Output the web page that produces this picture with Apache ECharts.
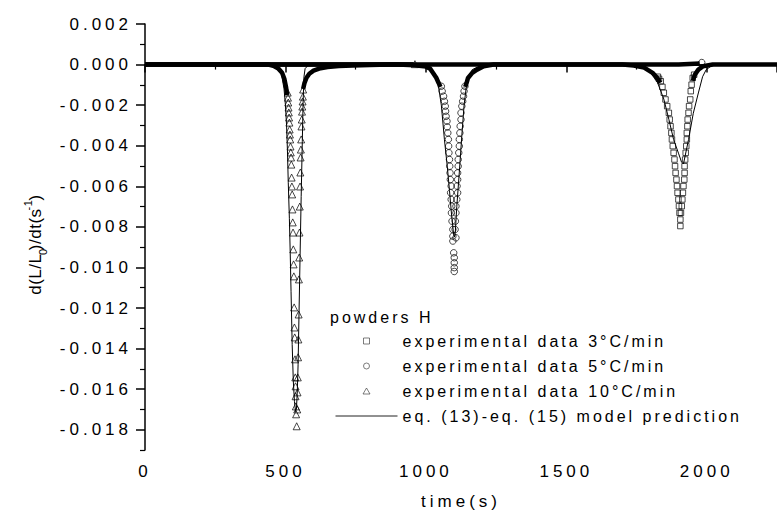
<!DOCTYPE html>
<html>
<head>
<meta charset="utf-8">
<script src="https://cdn.jsdelivr.net/npm/echarts@6/dist/echarts.min.js"></script>
<style>
  html, body { margin: 0; padding: 0; background: #fff; }
  #chart { width: 777px; height: 519px; }
  /* the scanned figure has very loose letter spacing */
  #chart text { letter-spacing: 4px; }
  #chart text[style*="16px"], #chart text[font-size="16px"] { letter-spacing: 3px; }
  #chart text[style*="Arial"], #chart text[font-family*="Arial"] { letter-spacing: 0.5px; }
</style>
</head>
<body>
<div id="chart"></div>
<script>
// series names
var names = [
  'experimental data 3°C/min',
  'experimental data 5°C/min',
  'experimental data 10°C/min',
  'eq. (13)-eq. (15) model prediction'
];

// tick values
var xTicks = [0, 500, 1000, 1500, 2000];
var yTicks = [-0.018, -0.016, -0.014, -0.012, -0.010, -0.008, -0.006, -0.004, -0.002, 0, 0.002];
var yMinor = [-0.019, -0.017, -0.015, -0.013, -0.011, -0.009, -0.007, -0.005, -0.003, -0.001, 0.001];

// 3°C/min : separate points around the peak  [time s, d(L/L0)/dt]
var pts3 = [
  [1826,-0.00060],[1830,-0.00070],[1836,-0.00082],[1842,-0.00110],[1847,-0.00139],[1853,-0.00172],[1859,-0.00205],
  [1865,-0.00238],[1868,-0.00271],[1871,-0.00304],[1874,-0.00337],[1876,-0.00369],[1879,-0.00402],
  [1882,-0.00435],[1885,-0.00468],[1887,-0.00501],[1889,-0.00534],[1892,-0.00567],[1894,-0.00599],
  [1896,-0.00632],[1899,-0.00665],[1901,-0.00698],[1903,-0.00731],[1906,-0.00764],[1906,-0.00796],
  [1908,-0.00731],[1911,-0.00698],[1913,-0.00665],[1915,-0.00632],[1917,-0.00599],[1920,-0.00567],
  [1921,-0.00534],[1921,-0.00501],[1923,-0.00468],[1925,-0.00435],[1927,-0.00402],[1929,-0.00369],
  [1929,-0.00337],[1931,-0.00304],[1932,-0.00271],[1935,-0.00238],[1937,-0.00205],[1941,-0.00172],
  [1943,-0.00131],[1946,-0.00099],[1950,-0.00066],[1955,-0.00050]
];
// 3°C/min : dense part (baseline and tails)
var band3 = [
  [0,0],[250,0],[500,0],[750,0],[1000,0],[1250,0],[1500,0],[1700,0],[1740,-0.00005],[1777,-0.00015],
  [1807,-0.00041],[1824,-0.00066],[1834,-0.00090],['-','-'],
  [1950,-0.00080],[1958,-0.00049],[1970,-0.00025],[1987,-0.00008],[2021,0],[2100,0],[2250,0]
];

// 5°C/min
var pts5 = [
  [1055,-0.00107],[1058,-0.00131],[1063,-0.00156],[1066,-0.00181],[1069,-0.00205],[1070,-0.00230],
  [1072,-0.00255],[1075,-0.00279],[1076,-0.00307],[1078,-0.00337],[1080,-0.00369],[1081,-0.00402],
  [1082,-0.00435],[1084,-0.00468],[1085,-0.00501],[1086,-0.00534],[1087,-0.00567],[1090,-0.00599],
  [1088,-0.00632],[1090,-0.00665],[1092,-0.00698],[1091,-0.00731],[1093,-0.00772],[1096,-0.00813],
  [1096,-0.00846],[1107,-0.00854],[1096,-0.00870],[1099,-0.00928],[1101,-0.00952],[1101,-0.00977],
  [1101,-0.01001],[1101,-0.01020],
  [1104,-0.00813],[1105,-0.00772],[1107,-0.00731],[1107,-0.00698],[1110,-0.00665],[1113,-0.00632],
  [1111,-0.00599],[1113,-0.00567],[1113,-0.00534],[1115,-0.00501],[1115,-0.00468],[1117,-0.00435],
  [1119,-0.00402],[1119,-0.00369],[1121,-0.00337],[1122,-0.00304],[1125,-0.00271],[1125,-0.00238],
  [1128,-0.00205],[1131,-0.00181],[1134,-0.00156],[1136,-0.00131],[1139,-0.00107],
  [1982,0.00010]
];
var band5 = [
  [0,0],[250,0],[500,0],[750,0],[900,0],[960,-0.00003],[1000,-0.00010],[1015,-0.00020],[1025,-0.00040],
  [1037,-0.00065],[1045,-0.00090],[1052,-0.00110],['-','-'],
  [1140,-0.00110],[1145,-0.00090],[1150,-0.00066],[1165,-0.00041],[1182,-0.00025],[1206,-0.00008],
  [1241,0],[1500,0],[1750,0],[1900,0],[1975,0.00005]
];

// 10°C/min
var pts10 = [
  [508,-0.00138],[509,-0.00163],[510,-0.00187],[511,-0.00212],[512,-0.00236],[513,-0.00261],[514,-0.00286],
  [515,-0.00320],[516,-0.00345],[517,-0.00369],[518,-0.00404],[519,-0.00433],[520,-0.00458],[521,-0.00493],
  [522,-0.00557],[523,-0.00601],[524,-0.00640],[525,-0.00714],[526,-0.00778],[527,-0.00828],[528,-0.00911],
  [529,-0.00985],[530,-0.01044],[531,-0.01197],[532,-0.01296],[533,-0.01345],[534,-0.01453],[535,-0.01542],
  [536,-0.01586],[536,-0.01635],[537,-0.01685],[538,-0.01724],[540,-0.01783],
  [542,-0.01700],[543,-0.01616],[544,-0.01542],[545,-0.01443],[546,-0.01355],[547,-0.01232],[548,-0.01059],
  [549,-0.00951],[550,-0.00828],[551,-0.00700],[552,-0.00601],[553,-0.00532],[554,-0.00458],[555,-0.00419],
  [556,-0.00369],[557,-0.00305],[558,-0.00271],[559,-0.00232],[560,-0.00207],[561,-0.00182],[562,-0.00158],
  [563,-0.00123],
  [961,0.00002]
];
var band10 = [
  [0,0],[250,0],[440,0],[460,-0.00008],[475,-0.00020],[488,-0.00040],[496,-0.00070],[502,-0.00110],
  [506,-0.00150],['-','-'],
  [563,-0.00120],[568,-0.00090],[575,-0.00065],[585,-0.00045],[600,-0.00030],[620,-0.00020],[650,-0.00012],
  [690,-0.00007],[740,-0.00004],[800,-0.00002],[870,0],[955,0]
];

// model prediction
var model = [
  [0,0],[200,0],[400,0],[460,-0.00002],[470,-0.00005],[485,-0.0004],[495,-0.0012],[500,-0.0020],
  [504,-0.0030],[507,-0.0042],[510,-0.0058],[514,-0.0076],[517,-0.0093],[520,-0.0112],[524,-0.0138],
  [528,-0.0156],[532,-0.0166],[536,-0.0171],[539,-0.0170],[542,-0.0162],[545,-0.0148],[548,-0.0125],
  [552,-0.0095],[556,-0.0065],[560,-0.0038],[563,-0.0018],[566,-0.0006],[570,-0.0002],[580,-0.00005],
  [600,0],[800,0],[950,0],[980,-0.00005],[1010,-0.0002],[1030,-0.0005],[1043,-0.0009],[1055,-0.0020],
  [1066,-0.0037],[1076,-0.0050],[1084,-0.0062],[1092,-0.0075],[1099,-0.0084],[1102,-0.0085],[1105,-0.0082],
  [1110,-0.0070],[1119,-0.0053],[1128,-0.0035],[1136,-0.0020],[1143,-0.0012],[1150,-0.0007],[1165,-0.00025],
  [1190,-0.00008],[1230,0],[1500,0],[1700,0],[1743,-0.00008],[1775,-0.0002],[1801,-0.00041],[1825,-0.0009],
  [1847,-0.0017],[1865,-0.0027],[1882,-0.0037],[1900,-0.0044],[1910,-0.0048],[1917,-0.0049],[1923,-0.0045],
  [1935,-0.0037],[1952,-0.0024],[1970,-0.0014],[1985,-0.0006],[1998,-0.00025],[2015,-0.00008],[2040,0],[2250,0]
];

var FONT = 'Liberation Sans';
var chart = echarts.init(document.getElementById('chart'), null, { renderer: 'svg' });

function pointSeries(name, symbol, size, data) {
  return {
    name: name,
    type: 'scatter',
    symbol: symbol,
    symbolSize: size,
    itemStyle: { color: 'rgba(0,0,0,0)', borderColor: '#000', borderWidth: 0.9 },
    data: data,
    z: 3
  };
}
function bandSeries(name, data) {
  return {
    name: name,
    type: 'line',
    symbol: 'none',
    lineStyle: { color: '#000', width: 4.5 },
    data: data,
    silent: true,
    z: 2
  };
}

// legend icons: small marker centred in a 62 x 6 box (the two lone moves fix the box)
var iconRect = 'path://M0,0M62,6M28,0L34,0L34,6L28,6Z';
var iconCircle = 'path://M0,0M62,6M34,3A3,3,0,1,1,28,3A3,3,0,1,1,34,3Z';
var iconTri = 'path://M0,0M62,6M31,0L34.5,6L27.5,6Z';

chart.setOption({
  animation: false,
  textStyle: { fontFamily: FONT, color: '#000' },
  grid: { left: 145, top: 24, right: -11.5, bottom: 69 },
  legend: {
    orient: 'vertical',
    left: 330,
    top: 328,
    itemWidth: 62,
    itemHeight: 6,
    itemGap: 9,
    selectedMode: false,
    itemStyle: { borderWidth: 0.8, borderColor: '#333' },
    lineStyle: { width: 1, color: '#222' },
    data: [
      { name: names[0], icon: iconRect },
      { name: names[1], icon: iconCircle },
      { name: names[2], icon: iconTri },
      { name: names[3] }
    ],
    textStyle: { fontFamily: FONT, fontSize: 16, color: '#000' }
  },
  graphic: [
    {
      type: 'text', left: 330, top: 309,
      style: { text: 'powders H', fontFamily: FONT, fontSize: 16, fill: '#000' }
    },
    {
      type: 'text', x: 35, y: 244, rotation: Math.PI / 2,
      style: {
        text: '{a|d(L/L}{b|0}{a|)/dt(s}{c|-1}{a|)}',
        align: 'center', verticalAlign: 'middle',
        rich: {
          a: { fontFamily: 'Arial', fontSize: 17, lineHeight: 26, verticalAlign: 'middle', fill: '#000' },
          b: { fontFamily: 'Arial', fontSize: 11, lineHeight: 26, verticalAlign: 'bottom', fill: '#000' },
          c: { fontFamily: 'Arial', fontSize: 11, lineHeight: 26, verticalAlign: 'top', fill: '#000' }
        }
      }
    }
  ],
  xAxis: [
    {
      type: 'value', min: 0, max: 2250, interval: 500,
      name: 'time(s)', nameLocation: 'middle', nameGap: 43,
      nameTextStyle: { fontFamily: FONT, fontSize: 17, color: '#000' },
      axisLine: { lineStyle: { color: '#000', width: 1.5 } },
      axisTick: { length: 8, lineStyle: { color: '#000', width: 1.5 } },
      minorTick: { show: true, splitNumber: 2, length: 5, lineStyle: { color: '#000', width: 1.2 } },
      axisLabel: {
        customValues: xTicks, margin: 13, fontFamily: FONT, fontSize: 17, color: '#000',
        formatter: function (v) { return String(v); }
      },
      splitLine: { show: false }
    },
    {
      type: 'value', min: 0, max: 2250, position: 'top',
      axisLine: { lineStyle: { color: '#000', width: 1.5 } },
      axisTick: { show: false }, axisLabel: { show: false }, splitLine: { show: false }
    }
  ],
  yAxis: [
    {
      type: 'value', min: -0.019, max: 0.002,
      axisLine: { show: true, lineStyle: { color: '#000', width: 1.5 } },
      axisTick: { show: true, customValues: yTicks, length: 9, lineStyle: { color: '#000', width: 1.5 } },
      axisLabel: {
        customValues: yTicks, margin: 13, fontFamily: FONT, fontSize: 17, color: '#000',
        formatter: function (v) { return v.toFixed(3); }
      },
      splitLine: { show: false }
    },
    {
      type: 'value', min: -0.019, max: 0.002, position: 'left',
      axisLine: { show: false },
      axisTick: { show: true, customValues: yMinor, length: 5, lineStyle: { color: '#000', width: 1.2 } },
      axisLabel: { show: false },
      splitLine: { show: false }
    }
  ],
  series: [
    pointSeries(names[0], 'rect', 5.5, pts3),
    pointSeries(names[1], 'circle', 6.5, pts5),
    pointSeries(names[2], 'triangle', 7, pts10),
    {
      name: names[3],
      type: 'line',
      symbol: 'none',
      itemStyle: { color: '#000', opacity: 0 },
      lineStyle: { color: '#000', width: 1 },
      data: model,
      z: 4
    },
    bandSeries(names[0], band3),
    bandSeries(names[1], band5),
    bandSeries(names[2], band10)
  ]
});
</script>
</body>
</html>
